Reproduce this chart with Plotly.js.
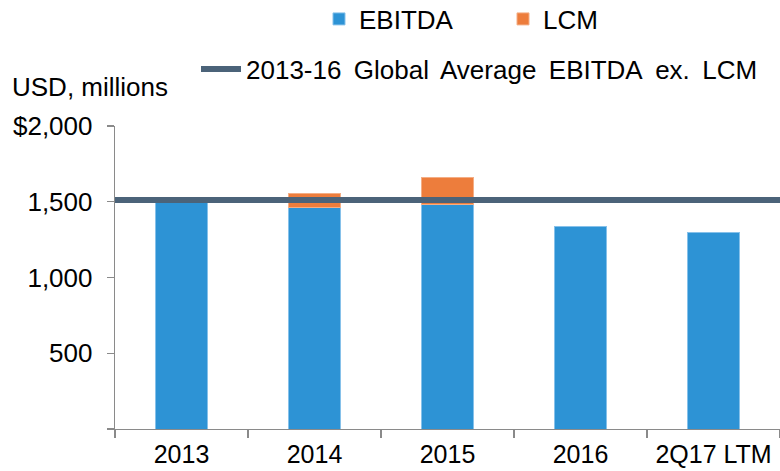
<!DOCTYPE html>
<html>
<head>
<meta charset="utf-8">
<script src="https://cdn.plot.ly/plotly-3.0.1.min.js"></script>
<style>html,body{margin:0;padding:0;background:#fff;}#chart{width:780px;height:471px;}</style>
</head>
<body>
<div id="chart"></div>
<script>
var categories = ["2013", "2014", "2015", "2016", "2Q17 LTM"];
var ebitda = [1515, 1465, 1480, 1334, 1295];
var lcm = [null, 92, 182, null, null];
var globalAverage = 1512;
var yTickVals = [0, 500, 1000, 1500, 2000];
var yTickText = ["", "500", "1,000", "1,500", "$2,000"];

var FONT = "Liberation Sans, Arial, sans-serif";
var FS = 26;

var traces = [
  {
    type: "bar", name: "EBITDA", x: categories, y: ebitda,
    marker: {color: "#2D93D5", line: {color: "#86C1EA", width: 1}},
    legend: "legend", hoverinfo: "skip"
  },
  {
    type: "bar", name: "LCM", x: categories, y: lcm,
    marker: {color: "#ED7D3C", line: {color: "#F4AE85", width: 1}},
    legend: "legend", hoverinfo: "skip"
  },
  {
    type: "scatter", mode: "lines",
    name: "2013-16\u2009 Global\u2009 Average\u2009 EBITDA\u2009 ex.\u2009 LCM",
    x: [0, 1], y: [globalAverage, globalAverage],
    xaxis: "x2", yaxis: "y",
    line: {color: "#4B6379", width: 6},
    legend: "legend2", hoverinfo: "skip"
  }
];

var layout = {
  width: 780, height: 471,
  margin: {l: 115, r: 0, t: 126, b: 42},
  paper_bgcolor: "#ffffff", plot_bgcolor: "#ffffff",
  font: {family: FONT, size: FS, color: "#000000"},
  barmode: "stack",
  bargap: 0.614,
  showlegend: true,
  xaxis: {
    type: "category",
    showgrid: false, zeroline: false,
    showline: true, linecolor: "#8A8A8A", linewidth: 1.3,
    ticks: "outside", tickson: "boundaries", ticklen: 8, tickcolor: "#8A8A8A", tickwidth: 1.3,
    tickfont: {family: FONT, size: 25, color: "#000"},
    ticklabelstandoff: 3
  },
  xaxis2: {
    overlaying: "x", range: [0, 1], visible: false, fixedrange: true
  },
  yaxis: {
    range: [0, 2000],
    tickvals: yTickVals, ticktext: yTickText,
    showgrid: false, zeroline: false,
    showline: true, linecolor: "#8A8A8A", linewidth: 1.3,
    ticks: "outside", ticklen: 7, tickcolor: "#8A8A8A", tickwidth: 1.3,
    tickfont: {family: FONT, size: FS, color: "#000"},
    ticklabelstandoff: 9
  },
  legend: {
    orientation: "h",
    xref: "container", yref: "container",
    x: 319 / 780, xanchor: "left",
    y: 1 - 19 / 471, yanchor: "middle",
    font: {family: FONT, size: FS, color: "#000"},
    entrywidth: 139, entrywidthmode: "pixels",
    bgcolor: "rgba(0,0,0,0)", borderwidth: 0,
    traceorder: "normal"
  },
  legend2: {
    orientation: "h",
    xref: "container", yref: "container",
    x: 196 / 780, xanchor: "left",
    y: 1 - 69 / 471, yanchor: "middle",
    itemwidth: 40,
    font: {family: FONT, size: FS, color: "#000"},
    bgcolor: "rgba(0,0,0,0)", borderwidth: 0
  },
  annotations: [
    {
      text: "USD, millions", xref: "paper", yref: "paper",
      x: (10 - 115) / (780 - 115), xanchor: "left",
      y: 1, yanchor: "middle", yshift: 39,
      showarrow: false,
      font: {family: FONT, size: FS, color: "#000"}
    }
  ]
};

Plotly.newPlot("chart", traces, layout, {displayModeBar: false, staticPlot: true});
</script>
</body>
</html>
